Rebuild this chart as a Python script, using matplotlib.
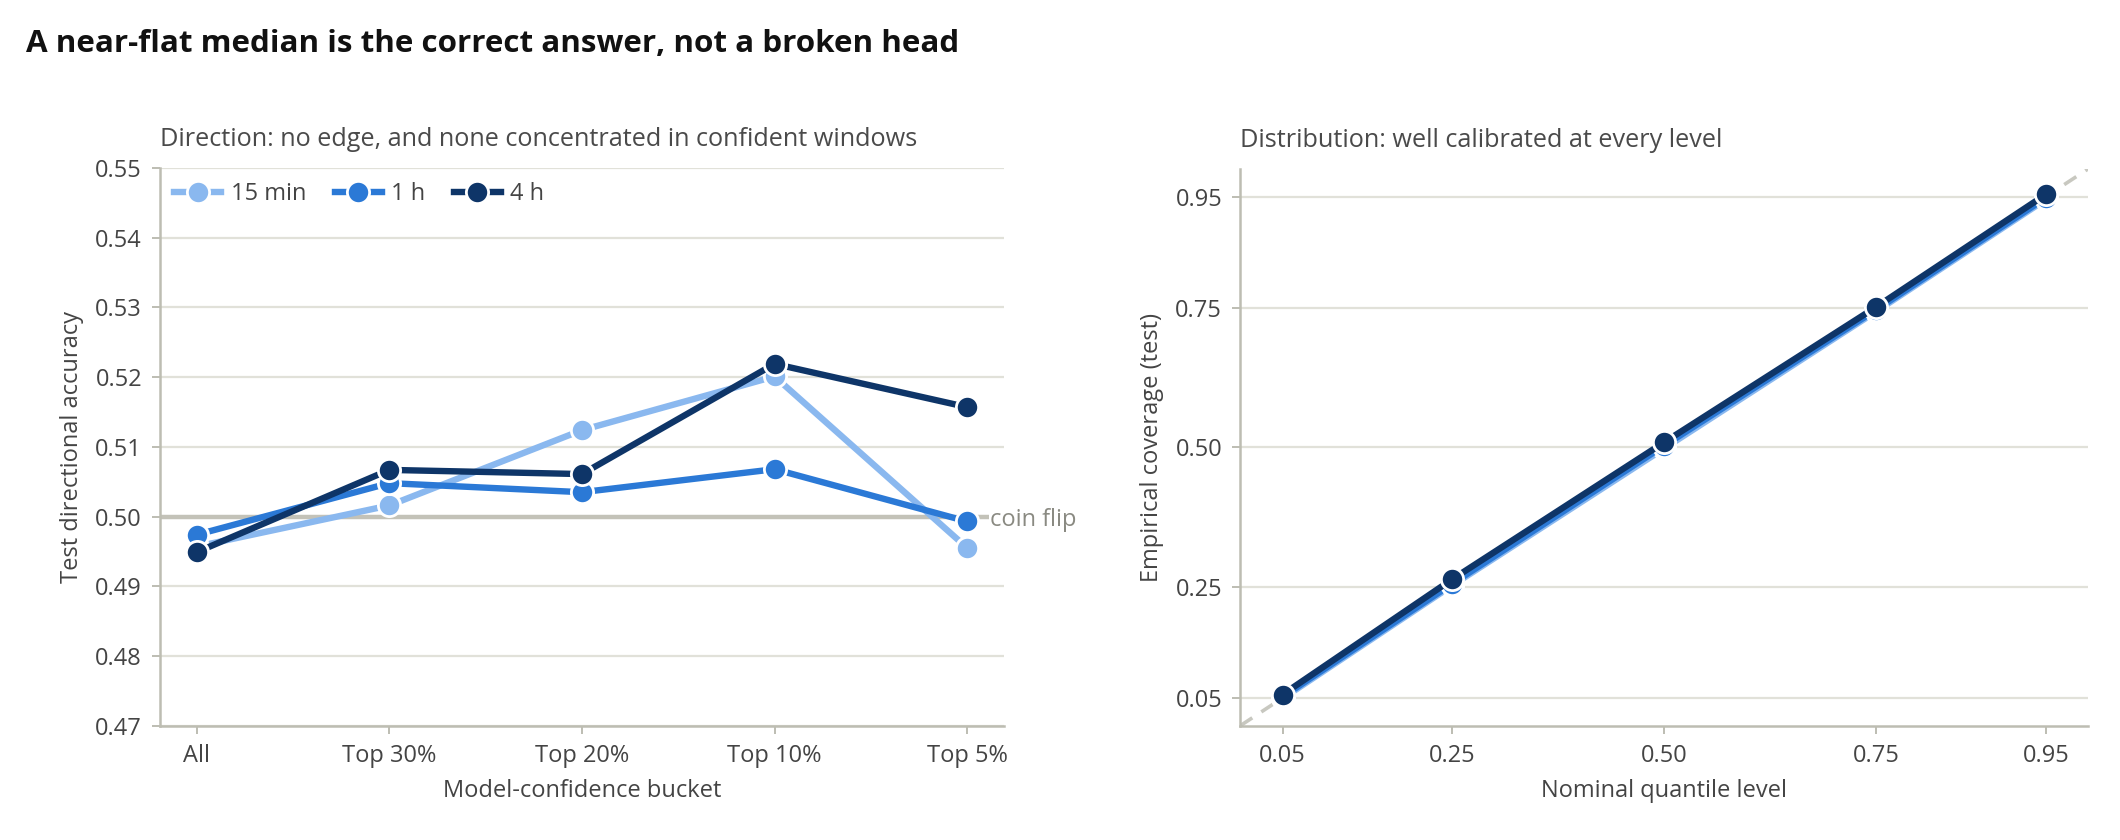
import matplotlib
matplotlib.use("Agg")
import matplotlib.pyplot as plt
import numpy as np

plt.rcParams['font.family'] = ['Open Sans', 'DejaVu Sans']

buckets = ["All", "Top 30%", "Top 20%", "Top 10%", "Top 5%"]
horizons = ["15 min", "1 h", "4 h"]
acc_15m = [0.4957, 0.5016, 0.5124, 0.5201, 0.4955]
acc_1h = [0.4974, 0.5048, 0.5035, 0.5068, 0.4993]
acc_4h = [0.4949, 0.5067, 0.5061, 0.5219, 0.5157]

nominal = [0.05, 0.25, 0.50, 0.75, 0.95]
cov_15m = [0.049, 0.252, 0.498, 0.744, 0.945]
cov_1h = [0.052, 0.255, 0.503, 0.747, 0.948]
cov_4h = [0.056, 0.263, 0.509, 0.752, 0.954]

colors = ["#8ab8ef", "#2b79d6", "#0e3568"]
text_c = "#444444"
grid_c = "#e1e1d9"
spine_c = "#bdbdb2"

fig = plt.figure(figsize=(10.6, 4.2), dpi=200)
ax1 = fig.add_axes([0.0755, 0.136, 0.398, 0.664])
ax2 = fig.add_axes([0.585, 0.136, 0.40, 0.663])

fig.text(0.0125, 0.948, "A near-flat median is the correct answer, not a broken head",
         fontsize=11.3, fontweight="bold", color="#111111", va="center", ha="left")

def style(ax):
    for s in ["top", "right"]:
        ax.spines[s].set_visible(False)
    for s in ["left", "bottom"]:
        ax.spines[s].set_color(spine_c)
        ax.spines[s].set_linewidth(0.9)
    ax.tick_params(colors=text_c, labelsize=8.5, length=3, width=0.7)
    ax.tick_params(axis="both", color=spine_c)
    ax.grid(axis="y", color=grid_c, linewidth=0.8)
    ax.set_axisbelow(True)

# Left panel
style(ax1)
x = np.arange(len(buckets))
ax1.axhline(0.50, color="#c3c2b8", linewidth=1.6, zorder=1)
for vals, c, lab in zip([acc_15m, acc_1h, acc_4h], colors, horizons):
    ax1.plot(x, vals, color=c, linewidth=2.3, marker="o", markersize=8,
             markeredgecolor="white", markeredgewidth=1.0, label=lab, zorder=3)
ax1.set_xlim(-0.19, 4.19)
ax1.set_ylim(0.47, 0.55)
yt = [0.47, 0.48, 0.49, 0.50, 0.51, 0.52, 0.53, 0.54, 0.55]
ax1.set_yticks(yt)
ax1.set_yticklabels([f"{v:.2f}" for v in yt])
ax1.set_xticks(x)
ax1.set_xticklabels(buckets)
ax1.set_xlabel("Model-confidence bucket", color=text_c, fontsize=8.5)
ax1.set_ylabel("Test directional accuracy", color=text_c, fontsize=8.5)
ax1.set_title("Direction: no edge, and none concentrated in confident windows",
              loc="left", color="#4a4a4a", fontsize=9.1, pad=8)
ax1.text(4.12, 0.4995, "coin flip", color="#8a8a82", fontsize=8.5, va="center", ha="left",
         clip_on=False, zorder=2,
         bbox=dict(facecolor="white", edgecolor="none", pad=0.5))
leg = ax1.legend(loc="upper left", ncol=3, frameon=False, fontsize=8.5,
                 handlelength=2.0, columnspacing=1.2, handletextpad=0.4,
                 borderaxespad=0.2)
for t in leg.get_texts():
    t.set_color(text_c)

# Right panel
style(ax2)
ax2.plot([0, 1], [0, 1], color="#c8c8c0", linewidth=1.3, linestyle=(0, (4, 3)), zorder=1)
for vals, c, lab in zip([cov_15m, cov_1h, cov_4h], colors, horizons):
    ax2.plot(nominal, vals, color=c, linewidth=2.3, marker="o", markersize=8,
             markeredgecolor="white", markeredgewidth=1.0, label=lab, zorder=3)
ax2.set_xlim(0, 1)
ax2.set_ylim(0, 1)
ax2.set_xticks(nominal)
ax2.set_xticklabels([f"{v:.2f}" for v in nominal])
ax2.set_yticks(nominal)
ax2.set_yticklabels([f"{v:.2f}" for v in nominal])
ax2.set_xlabel("Nominal quantile level", color=text_c, fontsize=8.5)
ax2.set_ylabel("Empirical coverage (test)", color=text_c, fontsize=8.5)
ax2.set_title("Distribution: well calibrated at every level",
              loc="left", color="#4a4a4a", fontsize=9.1, pad=8)

fig.savefig("out.png", dpi=200, facecolor="white")
